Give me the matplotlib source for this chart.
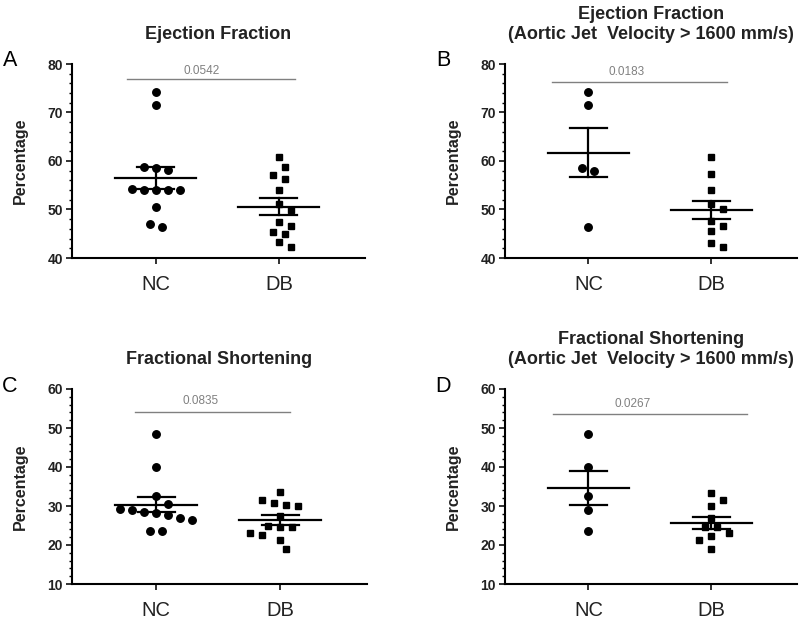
import numpy as np
import matplotlib
matplotlib.use('Agg')
import matplotlib.pyplot as plt
from matplotlib.ticker import MultipleLocator

plt.rcParams['font.family'] = ['Liberation Sans', 'DejaVu Sans']

groups = ['NC', 'DB']

# values (percent)
ef_nc = [74.2, 71.5, 58.8, 58.5, 58.1, 54.2, 54.0, 54.0, 54.0, 54.0, 50.5, 47.0, 46.3]
ef_db = [60.8, 58.8, 57.2, 56.3, 54.0, 51.1, 49.9, 47.5, 46.6, 45.4, 44.9, 43.2, 42.2]
ef_hi_nc = [74.2, 71.5, 58.6, 57.9, 46.3]
ef_hi_db = [60.8, 57.3, 54.0, 51.1, 50.0, 47.7, 46.7, 45.6, 43.1, 42.3]
fs_nc = [48.4, 40.0, 32.6, 30.6, 29.2, 28.9, 28.5, 28.1, 27.8, 27.0, 26.4, 23.6, 23.6]
fs_db = [33.5, 31.5, 30.8, 30.2, 29.9, 27.4, 24.9, 24.6, 24.5, 23.1, 22.5, 21.4, 19.1]
fs_hi_nc = [48.4, 40.0, 32.5, 29.1, 23.5]
fs_hi_db = [33.4, 31.5, 30.0, 27.0, 24.6, 24.5, 23.1, 22.2, 21.2, 18.9]

titles = ['Ejection Fraction',
          'Ejection Fraction\n(Aortic Jet  Velocity > 1600 mm/s)',
          'Fractional Shortening',
          'Fractional Shortening\n(Aortic Jet  Velocity > 1600 mm/s)']
letters = ['A', 'B', 'C', 'D']
pvalues = ['0.0542', '0.0183', '0.0835', '0.0267']
ylims = [(40, 80), (40, 80), (10, 60), (10, 60)]
panels = [(ef_nc, ef_db), (ef_hi_nc, ef_hi_db), (fs_nc, fs_db), (fs_hi_nc, fs_hi_db)]


def swarm(ax, vals, center, step=6.0, mindist=10.0, rowgap=3.5):
    # beeswarm: near-equal values form a centred row, then rows are
    # nudged sideways until they clear the points already placed
    vals = np.asarray(vals, dtype=float)
    ys = ax.transData.transform(np.column_stack([np.full(len(vals), center), vals]))[:, 1]
    pxx = ax.transData.transform([[1, 0]])[0, 0] - ax.transData.transform([[0, 0]])[0, 0]
    order = list(np.argsort(-vals, kind='stable'))
    rows = [[order[0]]]
    for i in order[1:]:
        if abs(ys[rows[-1][-1]] - ys[i]) < rowgap:
            rows[-1].append(i)
        else:
            rows.append([i])
    placed = []
    offs = np.zeros(len(vals))
    for row in rows:
        n = len(row)
        base = [(k - (n - 1) / 2) * 2 * step for k in range(n)]
        k = 0
        shift = None
        while shift is None:
            for s in ([0.0] if k == 0 else [k * step, -k * step]):
                if all((b + s - px) ** 2 + (ys[i] - py) ** 2 >= mindist ** 2
                       for b, i in zip(base, row) for px, py in placed):
                    shift = s
                    break
            k += 1
        for b, i in zip(base, row):
            placed.append((b + shift, ys[i]))
            offs[i] = (b + shift) / pxx
    return center + offs


fig = plt.figure(figsize=(8, 6.19), dpi=100)
W, H = 800, 619
boxes = [(72, 64, 293, 194), (505, 64, 292, 194), (72, 389, 295, 195), (505, 389, 292, 195)]
sig_y = [76.9, 76.3, 54.1, 53.5]
sig_x = [(-0.23, 1.13), (-0.3, 1.13), (-0.17, 1.08), (-0.29, 1.29)]
txt_y = [78.6, 78.4, 56.9, 56.1]
txt_x = [0.37, 0.31, 0.36, 0.36]

for i, (x0, y0, w, h) in enumerate(boxes):
    ax = fig.add_axes([x0 / W, 1 - (y0 + h) / H, w / W, h / H])
    ax.set_xlim(-0.68, 1.70)
    ax.set_ylim(*ylims[i])
    ax.spines['top'].set_visible(False)
    ax.spines['right'].set_visible(False)
    ax.spines['left'].set_linewidth(1.5)
    ax.spines['bottom'].set_linewidth(1.5)
    ax.yaxis.set_major_locator(MultipleLocator(10))
    ax.yaxis.set_minor_locator(MultipleLocator(2))
    ax.tick_params(axis='y', which='major', length=4, width=1.3, labelsize=10, pad=2.5, colors='#222222')
    ax.tick_params(axis='y', which='minor', length=2.5, width=1.0)
    ax.set_xticks([0, 1])
    ax.set_xticklabels(groups, fontsize=14.5)
    ax.tick_params(axis='x', length=4, width=1.3, pad=8, colors='#222222')
    for lab in ax.get_yticklabels():
        lab.set_fontweight('bold')
    ax.set_ylabel('Percentage', fontsize=11.5, fontweight='bold', labelpad=14, color='#222222')
    ax.set_title(titles[i], fontsize=13, fontweight='bold', pad=18, color='#222222')

    nc, db = panels[i]
    for j, (vals, mk, ms) in enumerate([(nc, 'o', 5.4), (db, 's', 4.9)]):
        xs = swarm(ax, vals, j)
        ax.plot(xs, vals, ls='none', marker=mk, ms=ms, color='black', mec='black', zorder=3)
        m = np.mean(vals)
        se = np.std(vals, ddof=1) / np.sqrt(len(vals))
        ax.plot([j - 0.33, j + 0.33], [m, m], color='black', lw=1.6, zorder=4)
        ax.plot([j - 0.15, j + 0.15], [m + se, m + se], color='black', lw=1.6, zorder=4)
        ax.plot([j - 0.15, j + 0.15], [m - se, m - se], color='black', lw=1.6, zorder=4)
        ax.plot([j, j], [m - se, m + se], color='black', lw=1.6, zorder=4)

    ax.plot(sig_x[i], [sig_y[i], sig_y[i]], color='#808080', lw=1.0, clip_on=False)
    ax.text(txt_x[i], txt_y[i], pvalues[i], color='#808080', fontsize=8.5,
            ha='center', va='center')
    fig.text((x0 - 62) / W, 1 - (y0 - 3) / H, letters[i], fontsize=15.5, ha='center', va='center')

fig.savefig('out.png', dpi=100)
